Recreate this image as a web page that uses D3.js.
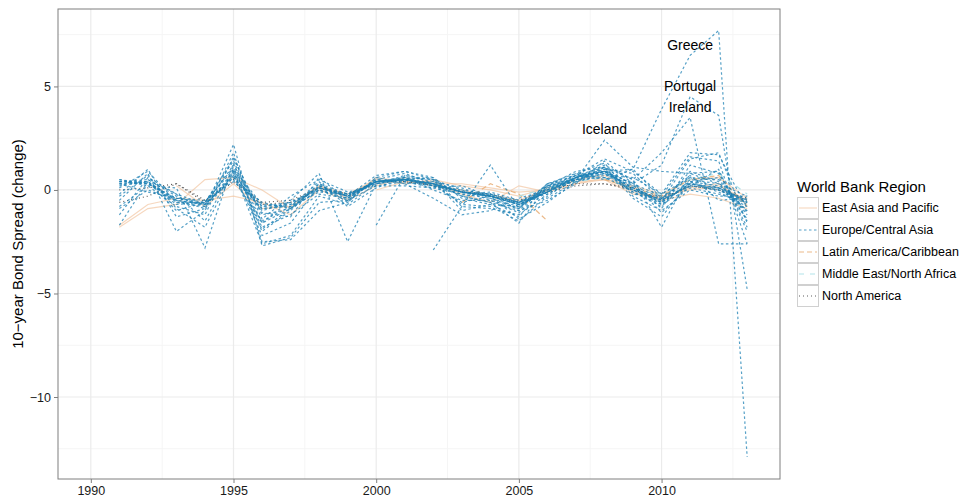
<!DOCTYPE html>
<meta charset="utf-8">
<style>
    body { margin: 0; overflow: hidden; background: #fff; }
    text { font-family: "Liberation Sans", Arial, Helvetica, sans-serif; }
</style>
<svg id="canvas" width="969" height="504"></svg>
<script src="https://d3js.org/d3.v7.min.js"></script>
<script>

    var years = [1991, 1992, 1993, 1994, 1995, 1996, 1997, 1998, 1999, 2000, 2001, 2002,
                 2003, 2004, 2005, 2006, 2007, 2008, 2009, 2010, 2011, 2012, 2013];

    var eastAsiaPacific = [
        [-1.8, -0.9, -0.7, 0.5, 0.6, 0.0, -0.9, 0.2, -0.2, 0.5, 0.3, 0.5, 0.2, 0.0, -0.3, 0.1, 0.4, 0.5, -0.2, -0.3, 0.0, 0.2, -0.5],
        [-1.7, -0.7, -0.4, -0.5, -0.3, -0.6, -1.2, 0.0, -0.5, 0.2, 0.6, 0.2, 0.0, -0.3, -0.5, 0.0, 0.5, 0.7, 0.0, -0.4, 0.1, 0.3, -0.7],
        [null, null, 0.2, -0.8, 0.3, -0.9, -0.8, 0.2, -0.4, 0.6, 0.4, 0.3, 0.3, 0.1, -0.1, 0.0, 0.3, 0.5, 0.2, -0.2, 0.5, 0.6, -0.4],
        [null, null, null, null, null, null, null, null, null, 0.0, 0.4, 0.4, -0.2, -0.6, 0.2, -0.1, 0.3, 0.6, -0.1, -0.5, -0.2, -0.4, -0.9]
    ];

    var latinAmericaCaribbean = [
        [null, null, null, null, null, null, null, null, null, null, null, null, -0.6, 0.3, -0.2, -1.5, null, null, null, null, null, null, null],
        [null, null, null, null, null, null, null, null, null, null, null, null, null, null, null, null, null, 0.5, 0.1, -0.3, 0.5, 0.7, -0.8]
    ];

    var middleEastNorthAfrica = [
        [null, null, null, null, null, null, null, null, null, null, null, null, null, null, -0.3, 0.1, 0.4, 0.6, 0.0, -0.2, 0.5, 0.8, -0.2]
    ];

    var northAmerica = [
        [-0.6, -0.3, 0.3, -0.5, 0.5, -0.6, -0.5, 0.1, -0.2, 0.4, 0.4, 0.2, -0.1, -0.2, -0.5, 0.0, 0.3, 0.3, 0.0, -0.4, 0.2, 0.0, -0.4],
        [0.0, 0.1, 0.3, -0.6, 0.4, -0.7, -0.6, 0.1, -0.3, 0.3, 0.5, 0.2, -0.1, -0.3, -0.6, -0.1, 0.2, 0.3, 0.1, -0.5, 0.2, 0.0, -0.5]
    ];

    var europeCentralAsia = [
        [0.5, 0.3, -0.5, -0.7, 0.6, -0.9, -0.7, 0.1, -0.3, 0.4, 0.5, 0.3, -0.1, -0.3, -0.7, -0.1, 0.6, 0.9, 0.1, -0.5, 0.2, 0.1, -0.5],
        [0.4, 0.5, -0.3, -0.8, 0.8, -1.0, -0.6, 0.0, -0.4, 0.4, 0.6, 0.2, -0.2, -0.4, -0.8, 0.0, 0.6, 1.0, 0.0, -0.6, 0.3, 0.0, -0.7],
        [0.1, 0.9, -0.6, -0.6, 1.5, -1.2, -0.9, 0.2, -0.2, 0.3, 0.7, 0.4, -0.1, -0.2, -0.6, -0.2, 0.5, 0.8, 0.2, -0.7, 0.4, -0.1, -0.8],
        [-0.2, 1.0, -1.3, -0.9, 2.2, -2.7, -2.3, -0.6, -0.5, 0.5, 0.4, 0.2, 0.0, -0.5, -1.1, 0.1, 0.7, 1.1, -0.2, -0.4, 0.6, 0.5, -1.2],
        [-0.5, 0.8, -2.0, -1.0, 1.8, -2.5, -2.4, -1.0, -0.6, 0.6, 0.9, 0.5, -0.3, -0.6, -1.6, 0.2, 0.7, 0.6, 0.4, -0.9, 1.2, 0.8, -1.5],
        [-0.8, 0.2, 0.1, -2.8, 1.3, -2.0, -1.0, 0.3, -0.2, 0.3, 0.5, 0.6, -0.4, -0.7, -1.3, 0.3, 0.5, 0.9, 0.3, -0.3, 1.6, 1.4, -2.6],
        [-1.2, 0.6, -0.2, -1.5, 1.0, -1.6, -0.5, 0.8, -2.5, 0.3, 0.6, 0.0, -0.5, -0.5, -0.9, 0.2, 0.4, 0.8, -0.1, -0.8, 0.5, 0.3, -1.0],
        [-1.7, 0.4, -1.0, -0.6, 1.1, -1.8, -1.2, -0.2, -0.4, 0.5, 0.8, 0.3, -0.7, -0.8, -1.5, -0.3, 0.6, 1.2, 0.5, -1.8, 0.8, 0.9, -1.8],
        [0.5, 0.2, -0.8, -1.2, 1.6, -1.4, -0.3, 0.5, -0.1, 0.2, 0.4, 0.1, -0.2, -0.1, -0.5, -0.4, 0.4, 0.7, 0.6, -0.2, 1.8, 1.7, -0.9],
        [0.3, -0.1, -0.4, -0.5, 0.4, -0.6, -0.9, 0.3, -0.6, 0.6, 0.3, -0.4, -1.2, -1.0, -0.4, 0.0, 0.8, 1.3, -0.3, -1.0, 0.0, -0.3, -0.3],
        [-0.3, 0.7, -0.9, -1.8, 0.9, -2.2, -1.6, 0.2, -0.3, 0.7, 0.9, 0.6, -0.8, -0.9, -1.2, -0.2, 0.5, 0.6, 0.0, -0.6, 0.9, 0.4, -1.4],
        [null, 0.5, -0.2, -0.7, 1.2, -1.1, -1.3, 0.6, -0.5, 0.2, 0.2, 0.1, 0.2, -0.3, -0.6, 0.2, 0.9, 1.1, 0.2, -0.4, 0.4, 0.2, -0.6],
        [null, null, null, null, 0.5, -1.5, -0.8, 0.4, -0.8, 0.1, 0.6, 0.3, -0.3, -0.6, -1.0, -0.5, 0.3, 1.4, 0.3, -1.1, 0.2, 1.0, -2.0],
        [null, null, null, null, null, null, null, null, null, -1.7, 0.7, 0.5, -1.0, -0.7, -0.8, 0.1, 0.6, 1.0, 0.8, -0.5, 1.5, 1.8, -1.6],
        [null, null, null, null, null, null, null, null, null, null, null, -2.9, -0.8, 1.2, -0.9, 0.3, 0.7, 1.5, 0.9, -0.2, 0.6, 0.1, -1.0],
        [0.2, 0.4, -0.7, -0.6, 1.0, -0.7, -0.8, -0.1, -0.2, 0.4, 0.6, 0.5, 0.0, -0.2, -0.6, -0.1, 0.7, 0.9, -0.1, -0.7, 0.1, -0.2, -0.6],
        [-0.9, 0.0, -0.5, -0.9, 0.7, -1.9, -0.9, 0.0, -0.5, 0.5, 0.3, 0.4, 0.1, -0.4, -0.9, 0.3, 0.8, 0.5, 1.0, -0.4, 0.7, -0.5, -0.4],
        [null, null, null, null, 0.9, -2.6, -2.2, -0.3, -0.7, 0.3, 0.5, 0.2, -0.6, -0.3, -1.4, -0.6, 0.4, 1.1, -0.4, -1.3, 0.4, 0.6, -1.1],
        [0.3, 0.3, -0.4, -0.7, 0.7, -0.8, -0.7, 0.1, -0.3, 0.4, 0.5, 0.3, -0.1, -0.3, -0.7, -0.1, 0.6, 0.9, 0.1, -0.5, 0.3, 0.1, -0.6],
        [0.4, 0.4, -0.5, -0.7, 0.6, -0.9, -0.8, 0.1, -0.3, 0.4, 0.5, 0.3, -0.1, -0.3, -0.7, -0.1, 0.6, 0.9, 0.0, -0.5, 0.2, 0.0, -0.6],
        [null, null, null, null, null, null, null, 0.2, -0.3, 0.4, 0.5, 0.3, -0.1, -0.3, -0.7, -0.1, 0.5, 0.8, 0.1, -0.6, 0.3, 0.1, -0.5],
        // Greece
        [null, null, null, null, null, null, null, null, -0.4, 0.4, 0.5, 0.3, -0.1, -0.3, -0.6, 0.0, 0.5, 0.9, 1.0, 3.9, 6.5, 7.7, -12.9],
        // Portugal
        [0.4, 0.3, -0.4, -0.6, 1.4, -1.6, -0.9, 0.0, -0.3, 0.4, 0.5, 0.2, -0.1, -0.3, -0.7, -0.1, 0.6, 0.9, 0.3, 1.2, 4.5, 3.6, -4.8],
        // Ireland
        [0.3, 0.4, -0.6, -0.8, 0.9, -0.8, -0.6, 0.1, -0.2, 0.4, 0.5, 0.3, -0.1, -0.2, -0.6, 0.0, 0.6, 1.1, 0.5, 1.8, 3.5, -2.6, -2.6],
        // Iceland
        [null, null, null, null, null, null, null, null, null, null, null, null, -0.3, -0.2, -1.0, 0.2, 0.5, 2.4, 1.1, 0.9, 0.8, 0.3, -0.3]
    ];

    var regionNames = ["East Asia and Pacific", "Europe/Central Asia", "Latin America/Caribbean",
                       "Middle East/North Africa", "North America"];
    var xTicks = [1990, 1995, 2000, 2005, 2010];
    var yTicks = [-10, -5, 0, 5];
    var labelNames = ["Greece", "Portugal", "Ireland", "Iceland"];
    var labelYears = [2011, 2011, 2011, 2008];
    var labelValues = [7.0, 5.0, 4.0, 2.95];

    // region styles, same order as regionNames
    var styles = [
        {color: "#f1c29b", dash: null, opacity: 0.65},
        {color: "#1c80b4", dash: "2.5,2.5", opacity: 0.75},
        {color: "#e6a86c", dash: "5,3", opacity: 0.8},
        {color: "#a9dfe6", dash: "5,6", opacity: 0.9},
        {color: "#333333", dash: "1,3", opacity: 0.8}
    ];

    var panelLeft = 58, panelTop = 9, pw = 722, ph = 470;

    var svg = d3.select("svg");

    var x = d3.scaleLinear().domain([1988.85, 2014.15]).range([panelLeft, panelLeft + pw]);
    var y = d3.scaleLinear().domain([-13.96, 8.74]).range([panelTop + ph, panelTop]);

    // grid
    var minorX = [1987.5, 1992.5, 1997.5, 2002.5, 2007.5, 2012.5];
    var minorY = [-12.5, -7.5, -2.5, 2.5, 7.5];

    var grid = svg.append("g");
    grid.selectAll("line.mx").data(minorX.filter(function(d) { return x(d) > panelLeft; }))
        .enter().append("line")
        .attr("x1", function(d) { return x(d); }).attr("x2", function(d) { return x(d); })
        .attr("y1", panelTop).attr("y2", panelTop + ph)
        .attr("stroke", "#f5f5f5").attr("stroke-width", 1);
    grid.selectAll("line.my").data(minorY)
        .enter().append("line")
        .attr("y1", function(d) { return y(d); }).attr("y2", function(d) { return y(d); })
        .attr("x1", panelLeft).attr("x2", panelLeft + pw)
        .attr("stroke", "#f5f5f5").attr("stroke-width", 1);
    grid.selectAll("line.gx").data(xTicks)
        .enter().append("line")
        .attr("x1", function(d) { return x(d); }).attr("x2", function(d) { return x(d); })
        .attr("y1", panelTop).attr("y2", panelTop + ph)
        .attr("stroke", "#ebebeb").attr("stroke-width", 1.2);
    grid.selectAll("line.gy").data(yTicks)
        .enter().append("line")
        .attr("y1", function(d) { return y(d); }).attr("y2", function(d) { return y(d); })
        .attr("x1", panelLeft).attr("x2", panelLeft + pw)
        .attr("stroke", "#ebebeb").attr("stroke-width", 1.2);

    svg.append("clipPath").attr("id", "panel")
       .append("rect").attr("x", panelLeft).attr("y", panelTop).attr("width", pw).attr("height", ph);

    var line = d3.line()
        .defined(function(d) { return d.v != null; })
        .x(function(d) { return x(d.year); })
        .y(function(d) { return y(d.v); });

    function toPoints(vals) {
        return vals.map(function(v, i) { return {year: years[i], v: v}; });
    }

    function drawRegion(series, k) {
        svg.append("g").attr("clip-path", "url(#panel)")
           .selectAll("path").data(series)
           .enter().append("path")
           .attr("d", function(d) { return line(toPoints(d)); })
           .attr("fill", "none")
           .attr("stroke", styles[k].color)
           .attr("stroke-opacity", styles[k].opacity)
           .attr("stroke-width", 1.2)
           .attr("stroke-dasharray", styles[k].dash);
    }

    drawRegion(eastAsiaPacific, 0);
    drawRegion(latinAmericaCaribbean, 2);
    drawRegion(middleEastNorthAfrica, 3);
    drawRegion(northAmerica, 4);
    drawRegion(europeCentralAsia, 1);

    // country labels
    svg.append("g").selectAll("text").data(labelNames)
       .enter().append("text")
       .attr("x", function(d, i) { return x(labelYears[i]); })
       .attr("y", function(d, i) { return y(labelValues[i]); })
       .attr("dy", "0.35em")
       .attr("text-anchor", "middle")
       .attr("font-size", 14)
       .attr("fill", "#000")
       .text(function(d) { return d; });

    // panel border
    svg.append("rect").attr("x", panelLeft).attr("y", panelTop).attr("width", pw).attr("height", ph)
       .attr("fill", "none").attr("stroke", "#7f7f7f").attr("stroke-width", 1);

    // axes
    var xAxis = svg.append("g").attr("transform", "translate(0," + (panelTop + ph) + ")")
        .call(d3.axisBottom(x).tickValues(xTicks).tickFormat(d3.format("d")).tickSize(4).tickPadding(3));
    var yAxis = svg.append("g").attr("transform", "translate(" + panelLeft + ",0)")
        .call(d3.axisLeft(y).tickValues(yTicks).tickFormat(function(d) { return d < 0 ? "\u2212" + Math.abs(d) : d; }).tickSize(4).tickPadding(3));
    [xAxis, yAxis].forEach(function(a) {
        a.select(".domain").remove();
        a.selectAll(".tick line").attr("stroke", "#7f7f7f");
        a.selectAll(".tick text").attr("font-size", 12.5).attr("fill", "#1a1a1a")
         .attr("font-family", "\"Liberation Sans\", Arial, sans-serif");
    });

    svg.append("text")
       .attr("transform", "translate(23," + (panelTop + ph / 2) + ") rotate(-90)")
       .attr("text-anchor", "middle")
       .attr("font-size", 15)
       .attr("fill", "#000")
       .text("10\u2212year Bond Spread (change)");

    // legend
    var lg = svg.append("g").attr("transform", "translate(797,0)");
    lg.append("text").attr("x", 0).attr("y", 192).attr("font-size", 15).attr("fill", "#000")
      .text("World Bank Region");
    var rows = lg.selectAll("g.row").data(regionNames)
        .enter().append("g")
        .attr("transform", function(d, i) { return "translate(0," + (197 + i * 22) + ")"; });
    rows.append("rect").attr("x", 0.5).attr("y", 0.5).attr("width", 21).attr("height", 21)
        .attr("fill", "#fff").attr("stroke", "#d0d0d0").attr("stroke-width", 1);
    rows.append("line").attr("x1", 2).attr("x2", 20).attr("y1", 11).attr("y2", 11)
        .attr("stroke", function(d, i) { return styles[i].color; })
        .attr("stroke-opacity", function(d, i) { return styles[i].opacity; })
        .attr("stroke-width", 1.1)
        .attr("stroke-dasharray", function(d, i) { return styles[i].dash; });
    rows.append("text").attr("x", 25).attr("y", 11).attr("dy", "0.35em")
        .attr("font-size", 12.5).attr("fill", "#000")
        .text(function(d) { return d; });

</script>
